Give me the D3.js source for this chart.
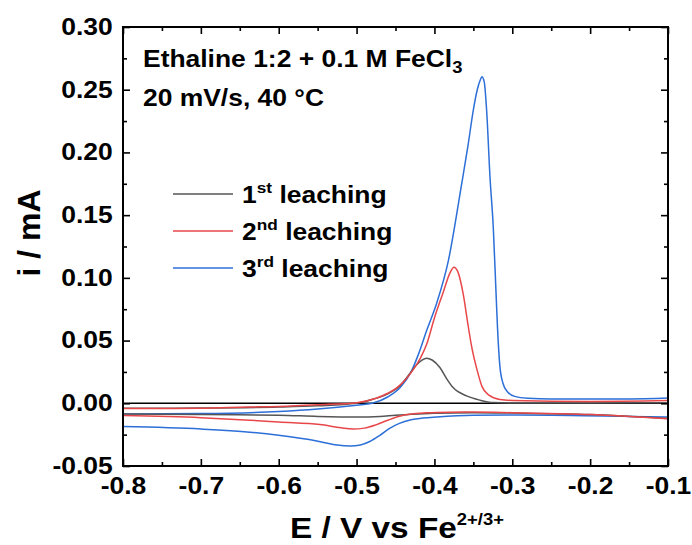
<!DOCTYPE html>
<html>
<head>
<meta charset="utf-8">
<script src="https://d3js.org/d3.v7.min.js"></script>
<style>
  body { margin: 0; background: #fff; }
  svg text { font-family: Arial, "Liberation Sans", sans-serif; font-weight: bold; fill: #000; }
</style>
</head>
<body>
<div id="chart"></div>
<script>
const WIDTH = 692;
const HEIGHT = 545;
const SX = 1.15; // the source picture's lettering is a little wider than Arial

// axis ticks
const xTicks = [-0.8, -0.7, -0.6, -0.5, -0.4, -0.3, -0.2, -0.1];
const xTickLabels = ['-0.8', '-0.7', '-0.6', '-0.5', '-0.4', '-0.3', '-0.2', '-0.1'];
const xMinor = [-0.75, -0.65, -0.55, -0.45, -0.35, -0.25, -0.15];
const yTicks = [-0.05, 0, 0.05, 0.10, 0.15, 0.20, 0.25, 0.30];
const yTickLabels = ['-0.05', '0.00', '0.05', '0.10', '0.15', '0.20', '0.25', '0.30'];
const yMinor = [-0.025, 0.025, 0.075, 0.125, 0.175, 0.225, 0.275];

// legend
const seriesNames = ['1', '2', '3'];
const seriesSup = ['st', 'nd', 'rd'];
const seriesColors = ['#555555', '#e8474a', '#2d6fd8'];

// 1st leaching  [E (V), i (mA)]
const fwd1 = [[-0.8,-0.004],[-0.7,-0.0038],[-0.6,-0.003],[-0.55,-0.002],[-0.5,0.0],[-0.48,0.003],[-0.46,0.0075],
  [-0.445,0.0135],[-0.433,0.0225],[-0.424,0.03],[-0.416,0.0345],[-0.41,0.036],[-0.403,0.0345],[-0.393,0.0285],[-0.384,0.0193],
  [-0.376,0.0125],[-0.3586,0.0059],[-0.3415,0.0025],[-0.3244,0.0006],[-0.3,0.0003],[-0.2,0.0003],[-0.1,0.0005]];
const rev1 = [[-0.8,-0.0085],[-0.7,-0.009],[-0.6,-0.0095],[-0.55,-0.0105],[-0.5,-0.011],[-0.47,-0.0105],[-0.45,-0.0095],
  [-0.42,-0.0085],[-0.4,-0.008],[-0.35,-0.0075],[-0.3,-0.0078],[-0.2,-0.009],[-0.1,-0.0122]];

// 2nd leaching
const fwd2 = [[-0.8,-0.0042],[-0.7,-0.004],[-0.64,-0.003],[-0.6,-0.0025],[-0.55,-0.0012],[-0.5,0.0005],[-0.475,0.004],
  [-0.46,0.008],[-0.448,0.0125],[-0.437,0.019],[-0.427,0.027],[-0.418,0.036],[-0.41,0.047],[-0.4,0.068],[-0.389,0.088],
  [-0.38,0.104],[-0.375,0.1085],[-0.37,0.105],[-0.363,0.087],[-0.357,0.063],[-0.352,0.0445],[-0.345,0.026],
  [-0.339,0.0135],[-0.33,0.0065],[-0.316,0.003],[-0.3,0.0022],[-0.2,0.0015],[-0.1,0.0022]];
const rev2 = [[-0.8,-0.0098],[-0.7,-0.0115],[-0.637,-0.0135],[-0.6,-0.015],[-0.547,-0.017],[-0.52,-0.0195],[-0.505,-0.0205],
  [-0.49,-0.0198],[-0.475,-0.0172],[-0.46,-0.0135],[-0.445,-0.0103],[-0.43,-0.0085],[-0.41,-0.0076],[-0.38,-0.0071],
  [-0.35,-0.007],[-0.3,-0.0075],[-0.2,-0.009],[-0.1,-0.0124]];

// 3rd leaching
const fwd3 = [[-0.8,-0.0085],[-0.7,-0.0082],[-0.6,-0.0065],[-0.55,-0.0045],[-0.5,-0.0015],[-0.48,0.0],[-0.46,0.005],
  [-0.444,0.0125],[-0.43,0.025],[-0.42,0.04],[-0.41,0.058],[-0.397,0.08],[-0.382,0.114],[-0.365,0.175],[-0.357,0.205],
  [-0.35,0.234],[-0.345,0.25],[-0.341,0.258],[-0.339,0.2603],[-0.336,0.256],[-0.333,0.234],[-0.3286,0.18],[-0.3244,0.14],
  [-0.321,0.09],[-0.319,0.0605],[-0.316,0.03],[-0.312,0.016],[-0.306,0.009],[-0.297,0.0055],[-0.28,0.004],[-0.25,0.0035],
  [-0.2,0.0035],[-0.15,0.0035],[-0.1,0.0042]];
const rev3 = [[-0.8,-0.0186],[-0.7,-0.0205],[-0.637,-0.023],[-0.6,-0.0255],[-0.551,-0.03],[-0.525,-0.0333],[-0.508,-0.034],
  [-0.495,-0.0332],[-0.483,-0.0305],[-0.47,-0.0255],[-0.457,-0.0198],[-0.445,-0.016],[-0.43,-0.0132],[-0.415,-0.0118],
  [-0.397,-0.0109],[-0.35,-0.0095],[-0.294,-0.0093],[-0.25,-0.0095],[-0.209,-0.01],[-0.15,-0.0105],[-0.1,-0.011]];

drawChart();

function placeText(sel, x, y) {
  return sel.attr('transform', 'translate(' + x + ',' + y + ') scale(' + SX + ',1)');
}

function drawChart() {
  const margin = { top: 27, right: 24, bottom: 79, left: 123 };
  const width = WIDTH - margin.left - margin.right;
  const height = HEIGHT - margin.top - margin.bottom;

  const x = d3.scaleLinear().domain([-0.8, -0.1]).range([0, width]);
  const y = d3.scaleLinear().domain([-0.05, 0.30]).range([height, 0]);

  const svg = d3.select('#chart')
    .append('svg')
    .attr('width', WIDTH)
    .attr('height', HEIGHT);

  const g = svg.append('g')
    .attr('transform', 'translate(' + margin.left + ',' + margin.top + ')');

  // zero line
  g.append('line')
    .attr('x1', 0).attr('x2', width)
    .attr('y1', y(0)).attr('y2', y(0))
    .attr('stroke', '#000')
    .attr('stroke-width', 1.6);

  // curves
  const line = d3.line()
    .x(d => x(d[0]))
    .y(d => y(d[1]))
    .curve(d3.curveMonotoneX);

  const curves = [
    { data: rev3, color: seriesColors[2] },
    { data: fwd3, color: seriesColors[2] },
    { data: rev1, color: seriesColors[0] },
    { data: fwd1, color: seriesColors[0] },
    { data: rev2, color: seriesColors[1] },
    { data: fwd2, color: seriesColors[1] }
  ];

  g.selectAll('.curve')
    .data(curves)
    .enter()
    .append('path')
    .attr('class', 'curve')
    .attr('d', d => line(d.data))
    .attr('fill', 'none')
    .attr('stroke', d => d.color)
    .attr('stroke-width', 1.5);

  // axes, ticks pointing inwards on all four sides
  const MAJOR = 7;
  const MINOR = 4;

  const styleAxis = sel => {
    sel.select('.domain').remove();
    sel.selectAll('.tick line').attr('stroke', '#000').attr('stroke-width', 1.6);
    sel.selectAll('.tick text')
      .attr('font-family', null)
      .attr('font-size', null)
      .style('font-size', '23px')
      .attr('transform', 'scale(' + SX + ',1)');
  };

  g.append('g')
    .attr('transform', 'translate(0,' + height + ')')
    .call(d3.axisBottom(x).tickValues(xTicks).tickSize(-MAJOR).tickPadding(12)
      .tickFormat((d, i) => xTickLabels[i]))
    .call(styleAxis);

  g.append('g')
    .attr('transform', 'translate(0,' + height + ')')
    .call(d3.axisBottom(x).tickValues(xMinor).tickSize(-MINOR).tickFormat(''))
    .call(styleAxis);

  g.append('g')
    .call(d3.axisTop(x).tickValues(xTicks).tickSize(-MAJOR).tickFormat(''))
    .call(styleAxis);
  g.append('g')
    .call(d3.axisTop(x).tickValues(xMinor).tickSize(-MINOR).tickFormat(''))
    .call(styleAxis);

  g.append('g')
    .call(d3.axisLeft(y).tickValues(yTicks).tickSize(-MAJOR).tickPadding(9)
      .tickFormat((d, i) => yTickLabels[i]))
    .call(styleAxis);

  g.append('g')
    .call(d3.axisLeft(y).tickValues(yMinor).tickSize(-MINOR).tickFormat(''))
    .call(styleAxis);

  g.append('g')
    .attr('transform', 'translate(' + width + ',0)')
    .call(d3.axisRight(y).tickValues(yTicks).tickSize(-MAJOR).tickFormat(''))
    .call(styleAxis);
  g.append('g')
    .attr('transform', 'translate(' + width + ',0)')
    .call(d3.axisRight(y).tickValues(yMinor).tickSize(-MINOR).tickFormat(''))
    .call(styleAxis);

  // frame
  g.append('rect')
    .attr('width', width)
    .attr('height', height)
    .attr('fill', 'none')
    .attr('stroke', '#000')
    .attr('stroke-width', 2);

  // annotation
  const note = g.append('text')
    .call(placeText, 20, 40)
    .style('font-size', '23px');
  note.append('tspan').text('Ethaline 1:2 + 0.1 M FeCl');
  note.append('tspan').attr('dy', 6).style('font-size', '16px').text('3');

  g.append('text')
    .call(placeText, 20, 79)
    .style('font-size', '23px')
    .text('20 mV/s, 40 °C');

  // legend
  const legend = g.append('g').attr('transform', 'translate(50,167)');
  seriesNames.forEach((name, i) => {
    const row = legend.append('g').attr('transform', 'translate(0,' + (i * 37) + ')');
    row.append('line')
      .attr('x1', 0).attr('x2', 60)
      .attr('y1', 0).attr('y2', 0)
      .attr('stroke', seriesColors[i])
      .attr('stroke-width', 1.6);
    const t = row.append('text')
      .call(placeText, 69, 9)
      .style('font-size', '23px');
    t.append('tspan').text(name);
    t.append('tspan').attr('dy', -10).style('font-size', '15px').text(seriesSup[i]);
    t.append('tspan').attr('dy', 10).text(' leaching');
  });

  // axis titles
  svg.append('text')
    .attr('transform', 'translate(40,233) rotate(-90)')
    .attr('text-anchor', 'middle')
    .style('font-size', '32px')
    .text('i / mA');

  const xTitle = svg.append('text')
    .call(placeText, 290, 538)
    .style('font-size', '29px');
  xTitle.append('tspan').text('E / V vs Fe');
  xTitle.append('tspan').attr('dy', -13).style('font-size', '16px').text('2+/3+');
}
</script>
</body>
</html>
